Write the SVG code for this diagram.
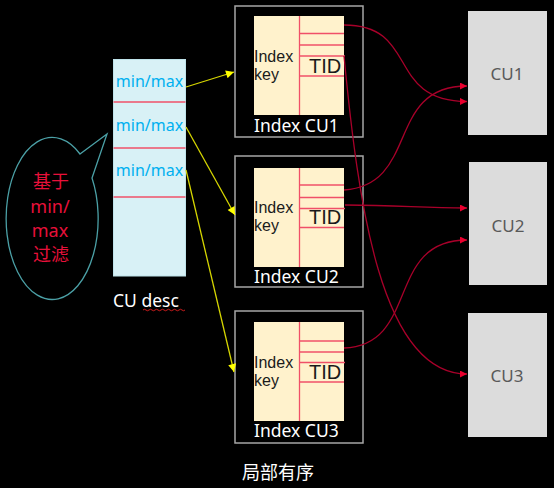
<svg xmlns="http://www.w3.org/2000/svg" width="554" height="488" viewBox="0 0 554 488">
<defs>
<style>
.outer{fill:#000;stroke:#a6a6a6;stroke-width:1.5}
.inner{fill:#fff2cc}
.row{stroke:#f05068;stroke-width:1.3;fill:none}
.dark{font-family:"Liberation Sans","Noto Sans",sans-serif;fill:#1a1a1a}
.ik{font-size:16px}
.wlab{font-family:"Noto Sans","Liberation Sans",sans-serif;fill:#ffffff;font-size:17.5px}
.cu{fill:#dcdcdc}
.cut{font-family:"Noto Sans","Liberation Sans",sans-serif;fill:#595959;font-size:17px;text-anchor:middle}
.mm{font-family:"Noto Sans","Liberation Sans",sans-serif;fill:#00b0f0;font-size:16px;text-anchor:middle}
.yl{stroke:#d6d600;stroke-width:1.3;fill:none}
.rl{stroke:#a8002a;stroke-width:1.3;fill:none}
.bt{font-family:"Noto Sans","Noto Sans CJK SC",sans-serif;fill:#e8103a;font-size:18px;text-anchor:middle}
</style>
<marker id="ya" viewBox="0 0 10 10" refX="10" refY="5" markerWidth="9" markerHeight="8" markerUnits="userSpaceOnUse" orient="auto">
<path d="M0,0 L10,5 L0,10 Z" fill="#ffff00"/>
</marker>
<marker id="ra" viewBox="0 0 10 10" refX="10" refY="5" markerWidth="7" markerHeight="7" markerUnits="userSpaceOnUse" orient="auto">
<path d="M0,0 L10,5 L0,10 Z" fill="#e8002e"/>
</marker>
</defs>
<rect x="0" y="0" width="554" height="488" fill="#000"/>

<g id="bubble">
<path d="M80,154 L107,134 L92,178 A46,81 0 1 1 80,154 Z" fill="#000" stroke="#4ba0a6" stroke-width="1.3"/>
<text class="bt" x="51" y="188" font-size="19">基于</text>
<text class="bt" x="50" y="213">min/</text>
<text class="bt" x="50" y="237">max</text>
<text class="bt" x="51" y="261" font-size="19">过滤</text>
</g>

<g id="cu-desc">
<rect x="113.5" y="59.5" width="72" height="216.5" fill="#d8f1f6" stroke="#bfe3ea" stroke-width="1"/>
<line x1="113.5" y1="102" x2="185.5" y2="102" class="row" stroke-width="2"/>
<line x1="113.5" y1="148" x2="185.5" y2="148" class="row" stroke-width="2"/>
<line x1="113.5" y1="197" x2="185.5" y2="197" class="row" stroke-width="2"/>
<text class="mm" x="149.5" y="87">min/max</text>
<text class="mm" x="149.5" y="131">min/max</text>
<text class="mm" x="149.5" y="176">min/max</text>
<text class="wlab" x="113" y="307">CU desc</text>
<path d="M143,310 q1.5,-1.5 3,0 t3,0 t3,0 t3,0 t3,0 t3,0 t3,0 t3,0 t3,0 t3,0 t3,0 t3,0 t3,0 t3,0" fill="none" stroke="#e02020" stroke-width="0.9"/>
</g>

<g id="index-cu1">
<rect class="outer" x="235" y="6" width="128" height="131"/>
<rect class="inner" x="254" y="16" width="90" height="99"/>
<line class="row" x1="299.5" y1="16" x2="299.5" y2="115"/>
<line class="row" x1="299.5" y1="33.5" x2="344" y2="33.5"/>
<line class="row" x1="299.5" y1="45" x2="344" y2="45"/>
<line class="row" x1="299.5" y1="56" x2="345" y2="56"/>
<line class="row" x1="299.5" y1="76" x2="344" y2="76"/>
<text class="dark ik" x="254" y="62">Index</text>
<text class="dark ik" x="254" y="80">key</text>
<text class="dark" x="309" y="73" font-size="20">TID</text>
<text class="wlab" x="254" y="132">Index CU1</text>
</g>

<g id="index-cu2">
<rect class="outer" x="235" y="156" width="128" height="131"/>
<rect class="inner" x="254" y="168" width="90" height="99"/>
<line class="row" x1="299.5" y1="168" x2="299.5" y2="267"/>
<line class="row" x1="299.5" y1="185" x2="344" y2="185"/>
<line class="row" x1="299.5" y1="197.5" x2="344" y2="197.5"/>
<line class="row" x1="299.5" y1="208.5" x2="345" y2="208.5"/>
<line class="row" x1="299.5" y1="227.5" x2="344" y2="227.5"/>
<text class="dark ik" x="254" y="213">Index</text>
<text class="dark ik" x="254" y="231">key</text>
<text class="dark" x="309" y="224" font-size="20">TID</text>
<text class="wlab" x="254" y="283">Index CU2</text>
</g>

<g id="index-cu3">
<rect class="outer" x="235" y="311" width="128" height="132"/>
<rect class="inner" x="254" y="322" width="90" height="99"/>
<line class="row" x1="299.5" y1="322" x2="299.5" y2="421"/>
<line class="row" x1="299.5" y1="341" x2="344" y2="341"/>
<line class="row" x1="299.5" y1="352" x2="344" y2="352"/>
<line class="row" x1="299.5" y1="362.5" x2="345" y2="362.5"/>
<line class="row" x1="299.5" y1="382" x2="344" y2="382"/>
<text class="dark ik" x="254" y="368">Index</text>
<text class="dark ik" x="254" y="386">key</text>
<text class="dark" x="309" y="379" font-size="20">TID</text>
<text class="wlab" x="254" y="437">Index CU3</text>
</g>

<g id="cu1">
<rect class="cu" x="468" y="11" width="79" height="124"/>
<text class="cut" x="507" y="80">CU1</text>
</g>
<g id="cu2">
<rect class="cu" x="469" y="162" width="78" height="123"/>
<text class="cut" x="508" y="232">CU2</text>
</g>
<g id="cu3">
<rect class="cu" x="468" y="313" width="79" height="124"/>
<text class="cut" x="507" y="382">CU3</text>
</g>

<text x="242" y="479" font-family="'Noto Sans CJK SC',sans-serif" font-size="18" fill="#ffffff">局部有序</text>

<g id="connectors">
<path class="yl" d="M186,87 L234,72" marker-end="url(#ya)"/>
<path class="yl" d="M186,127 L235,215" marker-end="url(#ya)"/>
<path class="yl" d="M186,170 L234,372" marker-end="url(#ya)"/>
<path class="rl" d="M344,25 C420,25 385,101 467,101.5" marker-end="url(#ra)"/>
<path class="rl" d="M344,56 C358,200 380,374 467,374" marker-end="url(#ra)"/>
<path class="rl" d="M344,190 C420,185 385,86 467,86" marker-end="url(#ra)"/>
<path class="rl" d="M345,205 C400,205 420,208 467,208" marker-end="url(#ra)"/>
<path class="rl" d="M344,348 C420,345 385,240 467,240" marker-end="url(#ra)"/>
</g>
</svg>
